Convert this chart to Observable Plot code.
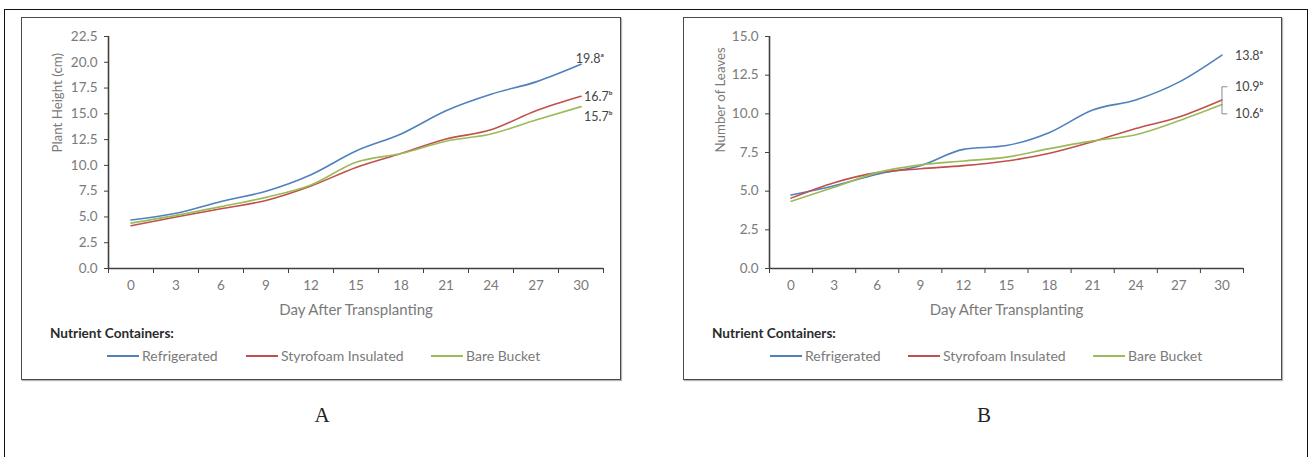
<!DOCTYPE html>
<html><head><meta charset="utf-8">
<script src="https://cdn.jsdelivr.net/npm/d3@7"></script>
<script src="https://cdn.jsdelivr.net/npm/@observablehq/plot@0.6"></script>
<style>
html,body{margin:0;padding:0;background:#fff;}
body{width:1309px;height:457px;overflow:hidden;position:relative;font-family:Lato,"Open Sans",sans-serif;}
#outer{position:absolute;left:4px;top:9px;width:1302px;height:470px;border:1px solid #111;}
.frame{position:absolute;top:17px;height:361px;border:1.5px solid #4a4a4a;box-shadow:1px 1px 1px #b5b5b5;background:#fff;}
.plot{position:absolute;top:18px;}
.plot svg{overflow:visible;}
.plot svg [aria-label="y-axis tick label"], .plot svg [aria-label="x-axis tick label"]{font-size:13.5px !important;}
.ltitle{position:absolute;font-weight:bold;font-size:13.6px;line-height:16px;color:#2b2b2b;white-space:nowrap;}
.lsw{position:absolute;height:2px;width:32px;}
.ltxt{position:absolute;font-size:14px;line-height:16px;color:#7a7a7a;white-space:nowrap;}
.panelLetter{position:absolute;font-family:"Liberation Serif",serif;font-size:21px;line-height:24px;color:#222;transform:translateX(-50%);}
</style></head><body>
<div id="outer"></div>
<div class="frame" id="frameA" style="left:21px;width:598px;"></div>
<div class="frame" id="frameB" style="left:683px;width:597px;"></div>
<div class="plot" id="plotA" style="left:22px;"></div>
<div class="plot" id="plotB" style="left:685px;"></div>
<div class="panelLetter" style="left:322px;top:403px;">A</div>
<div class="panelLetter" style="left:984px;top:403px;">B</div>
<script>
// ---- data ----
const days = [0, 3, 6, 9, 12, 15, 18, 21, 24, 27, 30];
const seriesNames = ["Refrigerated", "Styrofoam Insulated", "Bare Bucket"];
const seriesColors = ["#4f81bd", "#c0504d", "#9bbb59"];

// Panel A: Plant Height (cm)
const heightRefrigerated = [4.7, 5.35, 6.5, 7.5, 9.1, 11.4, 13.05, 15.3, 16.9, 18.1, 19.8];
const heightStyrofoam    = [4.15, 5.0, 5.8, 6.6, 8.0, 9.8, 11.15, 12.55, 13.45, 15.3, 16.7];
const heightBare         = [4.4, 5.15, 6.0, 6.9, 8.1, 10.3, 11.15, 12.35, 13.05, 14.4, 15.7];

// Panel B: Number of Leaves
const leavesRefrigerated = [4.75, 5.35, 6.1, 6.65, 7.7, 7.95, 8.8, 10.25, 10.9, 12.05, 13.8];
const leavesStyrofoam    = [4.55, 5.55, 6.2, 6.45, 6.65, 6.95, 7.45, 8.2, 9.05, 9.8, 10.9];
const leavesBare         = [4.35, 5.25, 6.2, 6.7, 6.95, 7.2, 7.75, 8.25, 8.65, 9.55, 10.6];

// axis ticks
const heightTicks = [0, 2.5, 5, 7.5, 10, 12.5, 15, 17.5, 20, 22.5];
const leavesTicks = [0, 2.5, 5, 7.5, 10, 12.5, 15];
const categoryEdges = [-1.5, 1.5, 4.5, 7.5, 10.5, 13.5, 16.5, 19.5, 22.5, 25.5, 28.5, 31.5];

// end-value labels (text, anchor position in data units)
const labelTextA = ["19.8\u1d43", "16.7\u1d47", "15.7\u1d47"];
const labelXA = [29.65, 30.2, 30.2];
const labelYA = [20.3, 16.6, 14.65];
const labelTextB = ["13.8\u1d43", "10.9\u1d47", "10.6\u1d47"];
const labelXB = [30.9, 30.9, 30.9];
const labelYB = [13.75, 11.75, 10.0];

const xTitle = "Day After Transplanting";
const legendTitle = "Nutrient Containers:";

function tidy(arrays) {
  return seriesNames.flatMap((s, si) => days.map((d, i) => ({day: d, value: arrays[si][i], series: s})));
}

function panel({arrays, yMax, yTicks, yTitle, width, marginLeft, marginRight, labelText, labelX, labelY, bracket}) {
  const data = tidy(arrays);
  const labels = labelText.map((t, i) => ({t, x: labelX[i], y: labelY[i]}));
  const marks = [
    Plot.axisY({ticks: yTicks, tickFormat: d3.format(".1f"), tickSize: 4, tickPadding: 7, stroke: "#404040", fill: "#7a7a7a", label: null, fontSize: 13.5}),
    Plot.axisX({ticks: categoryEdges, tickFormat: () => "", tickSize: 5, stroke: "#404040", label: null}),
    Plot.axisX({ticks: days, tickSize: 0, tickPadding: 12, fill: "#7a7a7a", label: null, fontSize: 13.5}),
    Plot.ruleX([categoryEdges[0]], {stroke: "#404040", strokeWidth: 1.6}),
    Plot.ruleY([0], {stroke: "#404040", strokeWidth: 1.6}),
    Plot.line(data, {x: "day", y: "value", stroke: "series", strokeWidth: 1.6, curve: "monotone-x"}),
    Plot.text(labels, {x: "x", y: "y", text: "t", textAnchor: "start", fill: "#454545", fontSize: 12.5}),
    Plot.text([xTitle], {frameAnchor: "bottom", dy: 46, fill: "#7a7a7a", fontSize: 15}),
    Plot.text([yTitle], {frameAnchor: "left", dx: -(marginLeft - 35), rotate: -90, fill: "#7a7a7a", fontSize: 13.3})
  ];
  if (bracket) {
    const top = labelY[1], bot = labelY[2];
    const bx = days[days.length - 1], hx = bx + 0.35;
    marks.push(Plot.line([[hx, top], [bx, top], [bx, bot], [hx, bot]], {stroke: "#8a8a8a", strokeWidth: 1}));
  }
  return Plot.plot({
    width, height: 310, marginLeft, marginRight, marginTop: 18, marginBottom: 60,
    style: {fontFamily: "Lato, 'Open Sans', sans-serif", fontSize: "13.5px", background: "transparent", overflow: "visible"},
    x: {domain: [categoryEdges[0], categoryEdges[categoryEdges.length - 1]]},
    y: {domain: [0, yMax]},
    color: {domain: seriesNames, range: seriesColors},
    marks
  });
}

document.getElementById("plotA").appendChild(panel({
  arrays: [heightRefrigerated, heightStyrofoam, heightBare],
  yMax: 22.5, yTicks: heightTicks, yTitle: "Plant Height (cm)",
  width: 599, marginLeft: 86, marginRight: 18,
  labelText: labelTextA, labelX: labelXA, labelY: labelYA, bracket: false
}));
document.getElementById("plotB").appendChild(panel({
  arrays: [leavesRefrigerated, leavesStyrofoam, leavesBare],
  yMax: 15, yTicks: leavesTicks, yTitle: "Number of Leaves",
  width: 597, marginLeft: 84, marginRight: 39,
  labelText: labelTextB, labelX: labelXB, labelY: labelYB, bracket: true
}));

// legends
function legend(titleLeft, swatchLefts) {
  const t = document.createElement("div");
  t.className = "ltitle"; t.textContent = legendTitle;
  t.style.left = titleLeft + "px"; t.style.top = "325px";
  document.body.appendChild(t);
  seriesNames.forEach((s, i) => {
    const sw = document.createElement("div");
    sw.className = "lsw"; sw.style.background = seriesColors[i];
    sw.style.left = swatchLefts[i] + "px"; sw.style.top = "355px";
    document.body.appendChild(sw);
    const tx = document.createElement("div");
    tx.className = "ltxt"; tx.textContent = s;
    tx.style.left = (swatchLefts[i] + 35) + "px"; tx.style.top = "348px";
    document.body.appendChild(tx);
  });
}
legend(50, [107, 246, 431]);
legend(712, [770, 908, 1093]);
</script>
</body></html>
